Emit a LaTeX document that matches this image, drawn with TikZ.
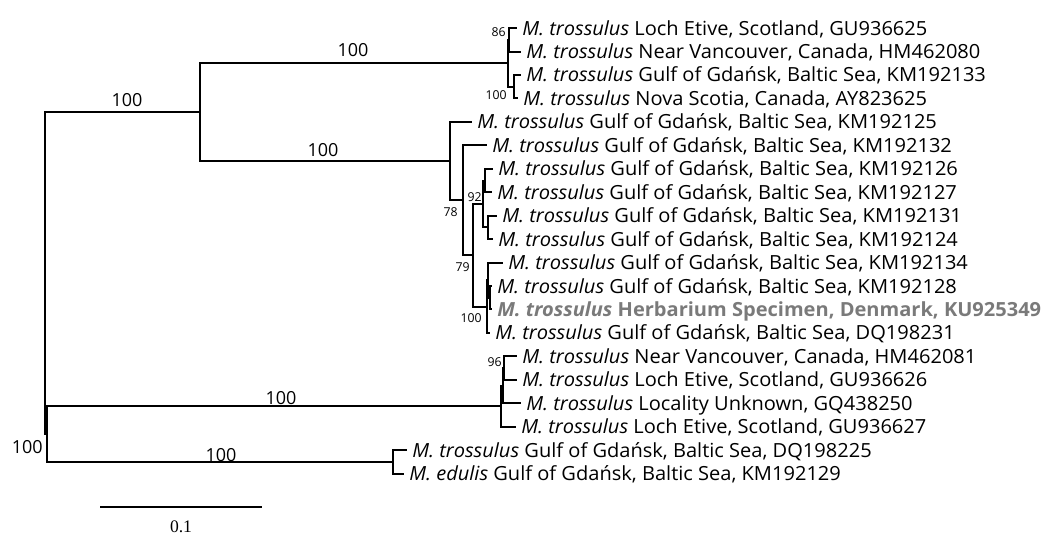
\documentclass[tikz,border=0pt]{standalone}
\usepackage{fontspec}
\setmainfont{Open Sans}
\newfontfamily\leaffont{Open Sans}[FakeStretch=1.03]
\newfontfamily\scalefont{Liberation Serif}
\definecolor{herbgray}{HTML}{7A7A7A}
\begin{document}
\begin{tikzpicture}[x=0.75pt,y=-0.75pt,
  branch/.style={line width=1.5pt, line join=miter},
  leaf/.style={anchor=base west, inner sep=0pt, font=\leaffont\fontsize{14.6}{17}\selectfont},
  herb/.style={leaf, text=herbgray, font=\leaffont\fontsize{14.6}{17}\selectfont\bfseries},
  boot/.style={anchor=east, inner sep=0pt, font=\fontsize{9.2}{11}\selectfont},
  blen/.style={inner sep=0pt, font=\fontsize{13.5}{16}\selectfont}]
\useasboundingbox (0,0) rectangle (1063,537);

% internal nodes
\coordinate (R)  at (45,273);
\coordinate (T0) at (200,112);
\coordinate (TA) at (508,63.2);
\coordinate (N12) at (509,39.75);
\coordinate (N34) at (514,86.65);
\coordinate (TB) at (450,161);
\coordinate (D)  at (463,200);
\coordinate (F)  at (473,255);
\coordinate (E)  at (483,204);
\coordinate (Q2) at (485,180.5);
\coordinate (H)  at (488,227.3);
\coordinate (G)  at (487,306.5);
\coordinate (Q1) at (487.5,280);
\coordinate (I)  at (489.5,297.7);
\coordinate (Q)  at (46.5,434);
\coordinate (M)  at (501,406);
\coordinate (P)  at (503,386);
\coordinate (N1516) at (504,368);
\coordinate (B)  at (393,461.9);

% leaf tips
\coordinate (l1)  at (517,28);
\coordinate (l2)  at (521,51.5);
\coordinate (l3)  at (521,74.9);
\coordinate (l4)  at (518,98.4);
\coordinate (l5)  at (472,121.8);
\coordinate (l6)  at (487,145.3);
\coordinate (l7)  at (493,168.7);
\coordinate (l8)  at (492,192.2);
\coordinate (l9)  at (497,215.6);
\coordinate (l10) at (493,239.1);
\coordinate (l11) at (503,262.5);
\coordinate (l12) at (492,286);
\coordinate (l13) at (492,309.4);
\coordinate (l14) at (490,332.9);
\coordinate (l15) at (517,356.3);
\coordinate (l16) at (517,379.8);
\coordinate (l17) at (521,403.2);
\coordinate (l18) at (516,426.7);
\coordinate (l19) at (407,450.1);
\coordinate (l20) at (404,473.6);

% branches
\foreach \a/\b in {R/T0,R/Q,T0/TA,T0/TB,TA/N12,TA/N34,N12/l1,N12/l2,N34/l3,N34/l4,
  TB/l5,TB/D,D/l6,D/F,F/E,F/G,E/Q2,E/H,Q2/l7,Q2/l8,H/l9,H/l10,
  G/Q1,G/l14,Q1/l11,Q1/I,I/l12,I/l13,
  Q/M,Q/B,M/P,M/l18,P/N1516,P/l17,N1516/l15,N1516/l16,B/l19,B/l20}
  \draw[branch] (\a) |- (\b);

% taxon labels
\node[leaf] (t1)  at ([shift={(5,7)}]l1)  {\textit{M. trossulus} Loch Etive, Scotland, GU936625};
\node[leaf] (t2)  at ([shift={(5,7)}]l2)  {\textit{M. trossulus} Near Vancouver, Canada, HM462080};
\node[leaf] (t3)  at ([shift={(5,7)}]l3)  {\textit{M. trossulus} Gulf of Gdańsk, Baltic Sea, KM192133};
\node[leaf] (t4)  at ([shift={(5,7)}]l4)  {\textit{M. trossulus} Nova Scotia, Canada, AY823625};
\node[leaf] (t5)  at ([shift={(5,7)}]l5)  {\textit{M. trossulus} Gulf of Gdańsk, Baltic Sea, KM192125};
\node[leaf] (t6)  at ([shift={(5,7)}]l6)  {\textit{M. trossulus} Gulf of Gdańsk, Baltic Sea, KM192132};
\node[leaf] (t7)  at ([shift={(5,7)}]l7)  {\textit{M. trossulus} Gulf of Gdańsk, Baltic Sea, KM192126};
\node[leaf] (t8)  at ([shift={(5,7)}]l8)  {\textit{M. trossulus} Gulf of Gdańsk, Baltic Sea, KM192127};
\node[leaf] (t9)  at ([shift={(5,7)}]l9)  {\textit{M. trossulus} Gulf of Gdańsk, Baltic Sea, KM192131};
\node[leaf] (t10) at ([shift={(5,7)}]l10) {\textit{M. trossulus} Gulf of Gdańsk, Baltic Sea, KM192124};
\node[leaf] (t11) at ([shift={(5,7)}]l11) {\textit{M. trossulus} Gulf of Gdańsk, Baltic Sea, KM192134};
\node[leaf] (t12) at ([shift={(5,7)}]l12) {\textit{M. trossulus} Gulf of Gdańsk, Baltic Sea, KM192128};
\node[herb] (t13) at ([shift={(5,7)}]l13) {\textit{M. trossulus} Herbarium Specimen, Denmark, KU925349};
\node[leaf] (t14) at ([shift={(5,7)}]l14) {\textit{M. trossulus} Gulf of Gdańsk, Baltic Sea, DQ198231};
\node[leaf] (t15) at ([shift={(5,7)}]l15) {\textit{M. trossulus} Near Vancouver, Canada, HM462081};
\node[leaf] (t16) at ([shift={(5,7)}]l16) {\textit{M. trossulus} Loch Etive, Scotland, GU936626};
\node[leaf] (t17) at ([shift={(5,7)}]l17) {\textit{M. trossulus} Locality Unknown, GQ438250};
\node[leaf] (t18) at ([shift={(5,7)}]l18) {\textit{M. trossulus} Loch Etive, Scotland, GU936627};
\node[leaf] (t19) at ([shift={(5,7)}]l19) {\textit{M. trossulus} Gulf of Gdańsk, Baltic Sea, DQ198225};
\node[leaf] (t20) at ([shift={(5,7)}]l20) {\textit{M. edulis} Gulf of Gdańsk, Baltic Sea, KM192129};

% bootstrap support at shallow nodes
\node[boot] (b86)  at (506,32)  {86};
\node[boot] (b100a) at (507,95) {100};
\node[boot] (b92)  at (482,197) {92};
\node[boot] (b78)  at (458,212) {78};
\node[boot] (b79)  at (470,267) {79};
\node[boot] (b100b) at (482,318) {100};
\node[boot] (b96)  at (502,362) {96};

% support on the deep branches
\node[blen] (s1) at (353,50)  {100};
\node[blen] (s2) at (127,100) {100};
\node[blen] (s3) at (323,150) {100};
\node[blen] (s4) at (281,398) {100};
\node[blen] (s5) at (221,455) {100};
\node[blen, anchor=east] (s6) at (43,447) {100};

% scale bar
\coordinate (sb1) at (100,507);
\coordinate (sb2) at (262,507);
\draw[line width=1.7pt] (sb1) -- (sb2);
\node[inner sep=0pt, font=\scalefont\fontsize{13.2}{15}\selectfont] (sbl) at (181,527) {0.1};
\end{tikzpicture}
\end{document}
